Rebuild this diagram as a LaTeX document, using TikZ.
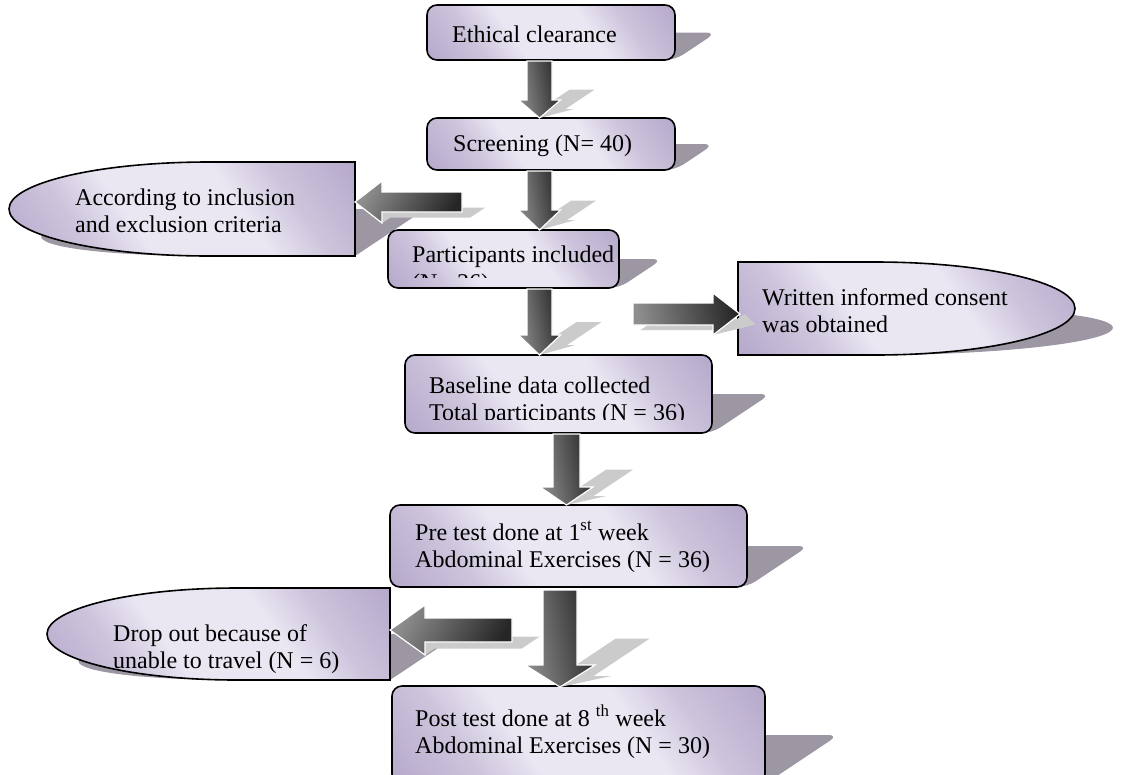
\documentclass[tikz,border=0pt]{standalone}
\usepackage{fontspec}
\setmainfont{Liberation Serif}
\definecolor{lavD}{HTML}{B0A2C7}
\definecolor{lavM}{HTML}{CDC4DC}
\definecolor{lavL}{HTML}{EAE6F2}
\definecolor{shd}{HTML}{9D97A4}
\definecolor{ashd}{HTML}{CBCBCB}
\definecolor{arrL}{HTML}{8E8E8E}
\definecolor{arrD}{HTML}{262626}
\pgfdeclarehorizontalshading{lavsh}{100bp}{color(0bp)=(lavD); color(12bp)=(lavD); color(30bp)=(lavM); color(40bp)=(lavL); color(60bp)=(lavL); color(70bp)=(lavM); color(88bp)=(lavD); color(100bp)=(lavD)}
\newcommand\fsz{\fontsize{24}{27}\selectfont}
\newcommand\twolines[2]{\vtop{\hbox{#1}\hbox{#2}}}
% rectangle path: xl, yt, xr, yb
\newcommand\boxpath[4]{(#1,#2) -- (#3,#2) -- (#3,#4) -- (#1,#4) -- cycle}
% D shape rounded on the left: xl, yt, xr, yb, rx
\newcommand\dleft[5]{(#3,#2) -- ({#1+#5},#2) .. controls ({#1+#5-0.5523*#5},#2) and (#1,{(#2+#4)/2-0.5523*(#4-#2)/2}) .. (#1,{(#2+#4)/2}) .. controls (#1,{(#2+#4)/2+0.5523*(#4-#2)/2}) and ({#1+#5-0.5523*#5},#4) .. ({#1+#5},#4) -- (#3,#4) -- cycle}
% D shape rounded on the right: xl, yt, xr, yb, rx
\newcommand\dright[5]{(#1,#2) -- ({#3-#5},#2) .. controls ({#3-#5+0.5523*#5},#2) and (#3,{(#2+#4)/2-0.5523*(#4-#2)/2}) .. (#3,{(#2+#4)/2}) .. controls (#3,{(#2+#4)/2+0.5523*(#4-#2)/2}) and ({#3-#5+0.5523*#5},#4) .. ({#3-#5},#4) -- (#1,#4) -- cycle}
% down block arrow: cx, ytop, ytip, shaft half width, head half width, head length
\newcommand\darrow[6]{({#1-#4},#2) -- ({#1+#4},#2) -- ({#1+#4},{#3-#6}) -- ({#1+#5},{#3-#6}) -- (#1,#3) -- ({#1-#5},{#3-#6}) -- ({#1-#4},{#3-#6}) -- cycle}
% left block arrow: xtip, xend, cy, sw, hw, hl
\newcommand\larrow[6]{(#2,{#3-#4}) -- ({#1+#6},{#3-#4}) -- ({#1+#6},{#3-#5}) -- (#1,#3) -- ({#1+#6},{#3+#5}) -- ({#1+#6},{#3+#4}) -- (#2,{#3+#4}) -- cycle}
% right block arrow: xstart, xtip, cy, sw, hw, hl
\newcommand\rarrow[6]{(#1,{#3-#4}) -- ({#2-#6},{#3-#4}) -- ({#2-#6},{#3-#5}) -- (#2,#3) -- ({#2-#6},{#3+#5}) -- ({#2-#6},{#3+#4}) -- (#1,{#3+#4}) -- cycle}
\tikzset{
  pshadow/.style={cm={1,0,0.75,0.5,(0.75*#1pt,-0.5*#1pt)}},
  boxshadow/.style={fill=shd, rounded corners=10pt},
  arrshadow/.style={fill=ashd},
  lavshade/.style={shading=lavsh, shading angle=35},
  box/.style={draw=black, line width=1.6pt, rounded corners=10pt, lavshade, inner sep=0pt},
  dshape/.style={draw=black, line width=1.6pt, lavshade},
  blockarrow/.style={draw=white, line width=1.2pt, left color=arrL, right color=arrD, shading angle=100},
  txt/.style={inner sep=0pt, anchor=base west, font=\fsz},
}
\begin{document}
\begin{tikzpicture}[x=1pt, y=-1pt]
\useasboundingbox (0,0) rectangle (1121,774);
% ---------- shadows of boxes and shapes
\fill[boxshadow, pshadow=60] \boxpath{427}{5}{675}{60};
\fill[boxshadow, pshadow=170] \boxpath{427}{118}{675}{170};
\fill[boxshadow, pshadow=288] \boxpath{388}{230}{619}{288};
\fill[boxshadow, pshadow=433] \boxpath{405}{355}{712}{433};
\fill[boxshadow, pshadow=587] \boxpath{390}{505}{747}{587};
\fill[boxshadow, pshadow=784] \boxpath{392}{686}{765}{784};
\fill[fill=shd, pshadow=256] \dleft{9}{162}{355}{256}{200};
\fill[fill=shd, pshadow=355] \dright{738}{262}{1075}{355}{200};
\fill[fill=shd, pshadow=680] \dleft{47}{588}{390}{680}{190};
% ---------- boxes
\node[box, minimum width=248pt, minimum height=55pt] (ethical) at (551,32.5) {};
\node[box, minimum width=248pt, minimum height=52pt] (screening) at (551,144) {};
\node[box, minimum width=231pt, minimum height=58pt] (participants) at (503.5,259) {};
\node[box, minimum width=307pt, minimum height=78pt] (baseline) at (558.5,394) {};
\node[box, minimum width=357pt, minimum height=82pt] (pretest) at (568.5,546) {};
\node[box, minimum width=373pt, minimum height=98pt] (posttest) at (578.5,735) {};
\draw[dshape] \dleft{9}{162}{355}{256}{200};
\draw[dshape] \dright{738}{262}{1075}{355}{200};
\draw[dshape] \dleft{47}{588}{390}{680}{190};
% ---------- texts
\node[txt] (ethical-t) at (452,42) {Ethical clearance};
\node[txt] (screening-t) at (453,151) {Screening (N= 40)};
\node[txt] (criteria-t) at (75,205) {\twolines{According to inclusion}{and exclusion criteria}};
\node[txt] (participants-t) at (412,262) {Participants included};
\begin{scope}
  \clip (392,232) rectangle (617,277);
  \node[txt] (participants-t2) at (412,290) {(N= 36)};
\end{scope}
\node[txt] (consent-t) at (762,305) {\twolines{Written informed consent}{was obtained}};
\begin{scope}
  \clip (408,357) rectangle (710,419.5);
  \node[txt, font=\fontsize{24}{27.5}\selectfont] (baseline-t) at (429,393) {\twolines{Baseline data collected}{Total participants (N = 36)}};
\end{scope}
\node[txt] (pretest-t) at (415,540) {\twolines{Pre test done at 1\textsuperscript{st} week}{Abdominal Exercises (N = 36)}};
\node[txt] (dropout-t) at (113,641) {\twolines{Drop out because of}{unable to travel (N = 6)}};
\node[txt] (posttest-t) at (415,726) {\twolines{Post test done at 8 \textsuperscript{th} week}{Abdominal Exercises (N = 30)}};
% ---------- block arrows (connectors) with their shadows
\fill[arrshadow, pshadow=118] \darrow{539.5}{61}{118}{12.5}{21}{18};
\draw[blockarrow] \darrow{539.5}{61}{118}{12.5}{21}{18};
\fill[arrshadow, pshadow=230] \darrow{539.5}{171}{230}{12.5}{21}{20};
\draw[blockarrow] \darrow{539.5}{171}{230}{12.5}{21}{20};
\fill[arrshadow, pshadow=223] \larrow{355}{462}{202}{10}{21}{27};
\draw[blockarrow, shading angle=60] \larrow{355}{462}{202}{10}{21}{27};
\fill[arrshadow, pshadow=355] \darrow{539.5}{289}{355}{12.5}{21}{20};
\draw[blockarrow] \darrow{539.5}{289}{355}{12.5}{21}{20};
\fill[arrshadow, pshadow=335] \rarrow{633}{740}{314}{11}{21}{27};
\draw[blockarrow] \rarrow{633}{740}{314}{11}{21}{27};
\fill[arrshadow, pshadow=505] \darrow{566.5}{434}{505}{13.5}{26.5}{18};
\draw[blockarrow] \darrow{566.5}{434}{505}{13.5}{26.5}{18};
\fill[arrshadow, pshadow=687] \darrow{560}{590}{687}{17}{35}{22};
\draw[blockarrow] \darrow{560}{590}{687}{17}{35}{22};
\fill[arrshadow, pshadow=655] \larrow{390}{512}{630}{12}{25}{35};
\draw[blockarrow, shading angle=60] \larrow{390}{512}{630}{12}{25}{35};
\end{tikzpicture}
\end{document}
